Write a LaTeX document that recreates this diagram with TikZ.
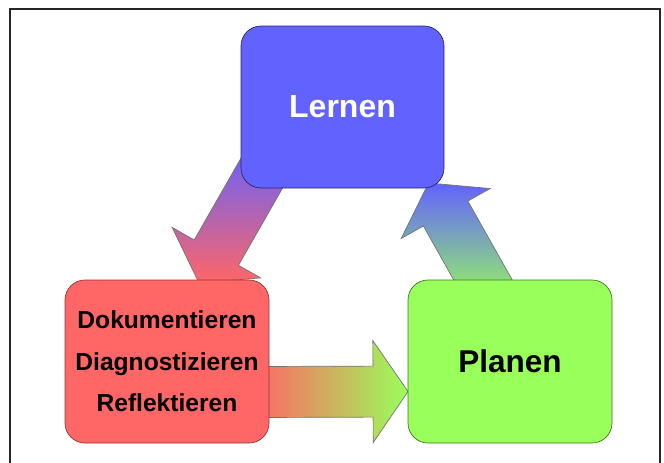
\documentclass[tikz,border=0pt]{standalone}
\usepackage{fontspec}
\setmainfont{Liberation Sans}
\usepackage{tikz}
\usetikzlibrary{calc,backgrounds}
\definecolor{lernblue}{RGB}{98,98,255}
\definecolor{dokred}{RGB}{255,102,102}
\definecolor{plangreen}{RGB}{153,255,90}

\newcommand{\bigarrow}[3]{%
  \coordinate (ah) at ($(#3)!35pt!(#2)$);
  \draw[#1] ($(#2)!25.5pt!90:(#3)$) -- ($(ah)!25.5pt!90:(#3)$) -- ($(ah)!51pt!90:(#3)$) -- (#3)
    -- ($(ah)!51pt!-90:(#3)$) -- ($(ah)!25.5pt!-90:(#3)$) -- ($(#2)!25.5pt!-90:(#3)$) -- cycle;
}

\begin{document}
\begin{tikzpicture}[x=1pt,y=-1pt]
      \useasboundingbox (0,0) rectangle (664,463);
      \draw[line width=2pt, black!85] (10,463) -- (10,9) -- (660,9) -- (660,463);
      \node (lern) at (342.5,107) [draw=lernblue!40!black, fill=lernblue, line width=0.7pt, rounded corners=20pt,
            minimum width=203pt, minimum height=162pt, text=white, font=\bfseries\fontsize{32}{38}\selectfont] {Lernen};
      \node (dok) at (167,361.5) [draw=dokred!55!black, fill=dokred, line width=0.7pt, rounded corners=20pt,
            minimum width=204pt, minimum height=163pt, align=center, font=\bfseries\fontsize{24.6}{41.5}\selectfont]
            {Dokumentieren\\Diagnostizieren\\Reflektieren};
      \node (plan) at (510,361.5) [draw=plangreen!45!black, fill=plangreen, line width=0.7pt, rounded corners=20pt,
            minimum width=204pt, minimum height=163pt, font=\bfseries\fontsize{31.5}{38}\selectfont] {Planen};
      \coordinate (a1s) at (271,157);
      \coordinate (a1e) at (199,283);
      \coordinate (a2s) at (255,392);
      \coordinate (a2e) at (408,391.5);
      \coordinate (a3s) at (492,296);
      \coordinate (a3e) at (428.5,183);
      \begin{scope}[on background layer]
        \bigarrow{draw=black!55, line width=0.7pt, top color=lernblue, bottom color=dokred}{a1s}{a1e}
        \bigarrow{draw=black!55, line width=0.7pt, left color=dokred, right color=plangreen}{a2s}{a2e}
        \bigarrow{draw=black!55, line width=0.7pt, top color=lernblue, bottom color=plangreen}{a3s}{a3e}
      \end{scope}
\end{tikzpicture}
\end{document}
